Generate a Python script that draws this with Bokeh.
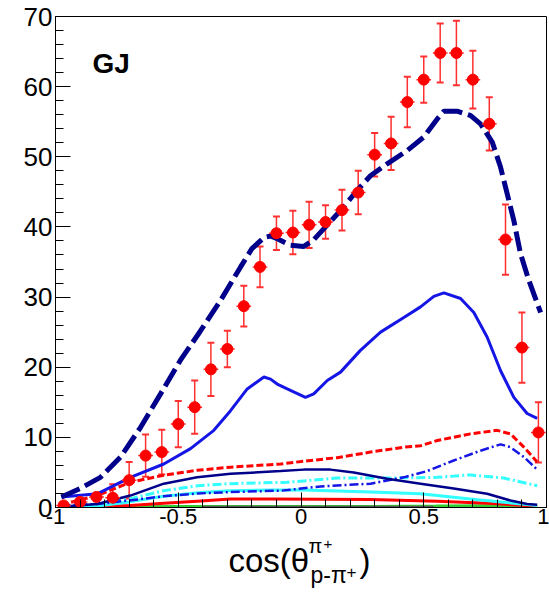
from bokeh.plotting import figure
from bokeh.models import (ColumnDataSource, FixedTicker, Label, Whisker, TeeHead,
                          Range1d)
from bokeh.layouts import column
from bokeh.embed import file_html
from bokeh.resources import INLINE

# ---------------- data ----------------
bin_x = [-0.967, -0.9, -0.833, -0.767, -0.7, -0.633, -0.567, -0.5, -0.433, -0.367,
         -0.3, -0.233, -0.167, -0.1, -0.033, 0.033, 0.1, 0.167, 0.233, 0.3,
         0.367, 0.433, 0.5, 0.567, 0.633, 0.7, 0.767, 0.833, 0.9, 0.967]
data_y = [0.3, 0.8, 1.5, 1.4, 3.9, 7.4, 7.9, 11.9, 14.3, 19.7,
          22.6, 28.7, 34.3, 39.1, 39.2, 40.3, 40.7, 42.4, 44.9, 50.3,
          51.9, 57.8, 61.0, 64.8, 64.8, 61.0, 54.7, 38.2, 22.8, 10.7]
data_err = [0.3, 0.5, 0.6, 1.9, 2.6, 3.0, 3.2, 3.3, 3.8, 3.8,
            2.6, 2.9, 2.9, 2.4, 3.1, 3.3, 2.4, 2.9, 3.1, 3.1,
            3.8, 3.6, 3.3, 4.2, 4.6, 4.1, 3.8, 5.0, 5.0, 4.3]
bin_half = 0.03

total_x = [-0.976, -0.9, -0.817, -0.735, -0.654, -0.572, -0.491, -0.409, -0.328, -0.246,
           -0.2, -0.15, -0.124, -0.09, -0.043, 0.01, 0.05, 0.1, 0.16, 0.229,
           0.283, 0.351, 0.433, 0.5, 0.555, 0.582, 0.636, 0.69, 0.731, 0.779,
           0.813, 0.84, 0.867, 0.894, 0.928, 0.976]
total_y = [1.5, 2.7, 4.3, 7.2, 11.4, 16.2, 21.0, 25.2, 29.5, 34.3,
           36.9, 38.5, 38.7, 38.2, 37.4, 37.2, 38.1, 40.0, 42.3, 45.2,
           47.3, 49.0, 50.9, 52.8, 55.4, 56.5, 56.5, 55.9, 54.7, 52.1,
           48.5, 44.7, 40.9, 36.2, 32.4, 27.8]

blue_x = [-0.976, -0.83, -0.695, -0.559, -0.45, -0.355, -0.287, -0.219, -0.151, -0.124,
          -0.097, -0.056, 0.018, 0.052, 0.107, 0.161, 0.242, 0.324, 0.419, 0.487,
          0.541, 0.582, 0.65, 0.704, 0.758, 0.813, 0.867, 0.921, 0.962]
blue_y = [1.5, 1.95, 4.3, 6.2, 8.4, 11.0, 13.8, 16.9, 18.6, 18.3,
          17.6, 16.9, 15.7, 16.2, 18.1, 19.3, 22.4, 25.0, 27.1, 28.6,
          30.1, 30.6, 29.8, 27.8, 24.3, 19.5, 15.7, 13.4, 12.7]

reddash_x = [-0.976, -0.83, -0.695, -0.559, -0.423, -0.287, -0.083, 0.011, 0.147, 0.283,
             0.419, 0.487, 0.555, 0.69, 0.799, 0.853, 0.908, 0.962]
reddash_y = [0.4, 1.7, 3.6, 4.6, 5.3, 5.75, 6.2, 6.6, 7.1, 7.9,
             8.6, 8.8, 9.55, 10.5, 11.0, 10.5, 8.6, 6.5]

navy_x = [-0.976, -0.83, -0.695, -0.559, -0.423, -0.287, -0.083, 0.011, 0.12, 0.215,
          0.351, 0.487, 0.622, 0.758, 0.853, 0.921, 0.962]
navy_y = [0.1, 0.5, 1.7, 3.4, 4.3, 4.8, 5.2, 5.4, 5.4, 5.0,
          4.1, 3.4, 2.7, 1.95, 1.0, 0.5, 0.4]

bluedd_x = [-0.976, -0.83, -0.7, -0.56, -0.42, -0.29, -0.08, 0.08, 0.283, 0.419,
            0.514, 0.622, 0.731, 0.813, 0.853, 0.908, 0.962]
bluedd_y = [0.3, 0.5, 1.0, 1.6, 2.0, 2.2, 2.4, 3.0, 3.4, 4.3,
            5.2, 6.7, 8.1, 9.0, 8.6, 7.2, 5.4]

cyandd_x = [-0.976, -0.83, -0.7, -0.56, -0.42, -0.29, -0.056, 0.147, 0.35, 0.555,
            0.69, 0.826, 0.962]
cyandd_y = [0.1, 0.5, 1.2, 2.4, 3.1, 3.4, 3.6, 4.2, 4.2, 4.3,
            4.65, 4.2, 3.1]

cyan_x = [-0.976, -0.83, -0.7, -0.56, -0.42, -0.29, -0.12, 0.011, 0.283, 0.487,
          0.69, 0.826, 0.962]
cyan_y = [0.05, 0.2, 0.8, 1.6, 2.1, 2.4, 2.5, 2.5, 2.2, 1.95,
          1.2, 0.75, 0.3]

redsol_x = [-0.976, -0.83, -0.695, -0.559, -0.423, -0.287, -0.124, 0.283, 0.555, 0.758,
            0.908, 0.962]
redsol_y = [0.0, 0.1, 0.3, 0.6, 0.9, 1.2, 1.2, 1.15, 0.9, 0.6,
            0.3, 0.2]

green_x = [-0.976, -0.83, -0.7, -0.5, -0.3, 0.0, 0.3, 0.55, 0.75, 0.9, 0.962]
green_y = [0.0, 0.05, 0.1, 0.15, 0.15, 0.15, 0.15, 0.2, 0.25, 0.2, 0.1]

gray_x = [-0.4, 0.0, 0.54]
gray_y = [0.02, 0.02, 0.02]

x_major = [-1, -0.5, 0, 0.5, 1]
y_major = [0, 10, 20, 30, 40, 50, 60, 70]

# ---------------- main figure ----------------
X0, X1, Y0, Y1 = -1.0, 1.0, 0.0, 70.0
W = 549
FL, FT, FW, FH = 55, 16, 491, 491   # frame left/top/width/height in page px
H1 = 534                              # main figure height
H2 = 592 - H1                         # strip holding the axis title
BASE_SHIFT = 0.37                     # label anchor correction (in em)

p = figure(width=W, height=H1, output_backend="svg", toolbar_location=None,
           x_range=Range1d(X0, X1), y_range=Range1d(Y0, Y1),
           min_border_left=FL, min_border_right=W - FL - FW, min_border_top=FT,
           min_border_bottom=H1 - FT - FH)
p.background_fill_color = "white"
p.border_fill_color = "white"
p.outline_line_color = "black"
p.outline_line_width = 1
p.grid.visible = False

x_minor = [round(-1 + 0.1 * i, 2) for i in range(21)]
y_minor = list(range(0, 71, 2))
p.xaxis.ticker = FixedTicker(ticks=x_major, minor_ticks=x_minor)
p.yaxis.ticker = FixedTicker(ticks=y_major, minor_ticks=y_minor)
p.xaxis.major_label_overrides = {-1: "-1", -0.5: "-0.5", 0: "0", 0.5: "0.5", 1: "1"}

for ax in (p.xaxis[0], p.yaxis[0]):
    ax.axis_line_color = "black"
    ax.major_tick_line_color = "black"
    ax.minor_tick_line_color = "black"
    ax.major_tick_in = 15
    ax.major_tick_out = 0
    ax.minor_tick_in = 8
    ax.minor_tick_out = 0
    ax.major_label_text_font = "Liberation Sans"
    ax.major_label_text_color = "black"
p.yaxis.major_label_text_font_size = "26px"
p.xaxis.major_label_text_font_size = "22px"
p.yaxis.major_label_standoff = 3
p.xaxis.major_label_standoff = 1

# ---------------- curves ----------------
p.line(green_x, green_y, line_color="#33cc33", line_width=3)
p.line(gray_x, gray_y, line_color="#555555", line_width=3)
p.line(redsol_x, redsol_y, line_color="#ff0000", line_width=3)
p.line(cyan_x, cyan_y, line_color="#33ffff", line_width=3)
p.line(cyandd_x, cyandd_y, line_color="#33ffff", line_width=3, line_dash="9 3 2 3")
p.line(bluedd_x, bluedd_y, line_color="#1515e6", line_width=2.5, line_dash="9 3 2 3")
p.line(navy_x, navy_y, line_color="#00008b", line_width=2.5)
p.line(reddash_x, reddash_y, line_color="#ff0000", line_width=3, line_dash="7 3")
p.line(blue_x, blue_y, line_color="#1515e6", line_width=3)
p.line(total_x, total_y, line_color="#00008b", line_width=5, line_dash="20 6")

# ---------------- data points ----------------
src = ColumnDataSource(dict(
    x=bin_x, y=data_y,
    upper=[v + e for v, e in zip(data_y, data_err)],
    lower=[v - e for v, e in zip(data_y, data_err)],
    xl=[v - bin_half for v in bin_x],
    xr=[v + bin_half for v in bin_x],
))
p.segment(x0="xl", y0="y", x1="xr", y1="y", source=src, line_color="#ff3030", line_width=1.5)
wh = Whisker(base="x", upper="upper", lower="lower", source=src,
             line_color="#ff3030", line_width=1.5,
             upper_head=TeeHead(size=7, line_color="#ff3030", line_width=2),
             lower_head=TeeHead(size=7, line_color="#ff3030", line_width=2))
p.add_layout(wh)
p.scatter("x", "y", source=src, size=11, marker="circle", fill_color="#ff0000",
          line_color="#ff0000")

def px_to_x(px):
    return X0 + (px - FL) / FW * (X1 - X0)

# "GJ" tag inside the frame (position given in page pixels of its baseline)
p.add_layout(Label(x=px_to_x(92),
                   y=Y0 + (FT + FH - (73 - BASE_SHIFT * 28)) / FH * (Y1 - Y0),
                   text="GJ", text_font="Liberation Sans", text_font_size="28px",
                   text_font_style="bold", text_color="black",
                   text_baseline="alphabetic", text_align="left"))

# ---------------- axis-title strip ----------------
t = figure(width=W, height=H2, output_backend="svg", toolbar_location=None,
           x_range=Range1d(X0, X1), y_range=Range1d(592, H1),
           x_axis_type=None, y_axis_type=None,
           min_border_left=FL, min_border_right=W - FL - FW,
           min_border_top=0, min_border_bottom=0)
t.outline_line_color = None
t.grid.visible = False
t.background_fill_color = "white"
t.border_fill_color = "white"

def lab(text, px, py, size):
    # px, py: page position of the text's left end on its baseline
    t.add_layout(Label(x=px_to_x(px), y=py - BASE_SHIFT * size, text=text,
                       text_font="Liberation Sans", text_font_size=f"{size}px",
                       text_color="black", text_baseline="alphabetic",
                       text_align="left"))

lab("cos(θ", 228, 572, 33)
lab("π", 308, 553, 20)
lab("+", 323, 549, 15)
lab("p-π", 310, 583, 23)
lab("+", 346, 578, 17)
lab(")", 359, 572, 33)

open("out.html", "w").write(file_html(column(p, t, spacing=0), INLINE))
